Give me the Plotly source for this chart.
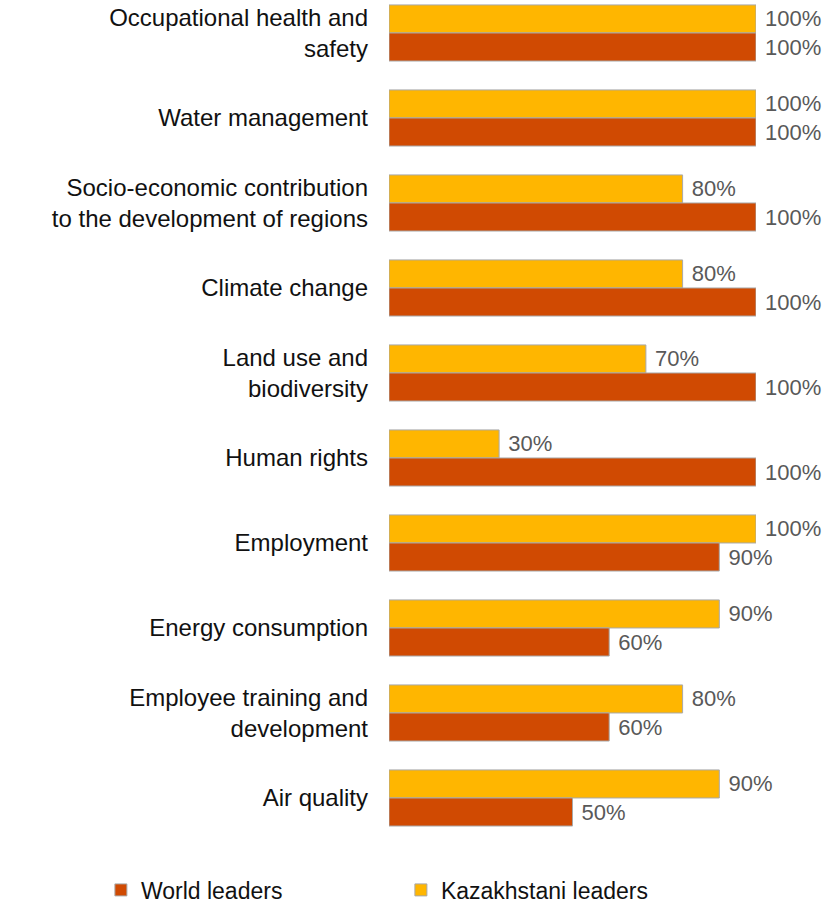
import plotly.graph_objects as go

categories = [
    "Occupational health and<br>safety",
    "Water management",
    "Socio-economic contribution<br>to the development of regions",
    "Climate change",
    "Land use and<br>biodiversity",
    "Human rights",
    "Employment",
    "Energy consumption",
    "Employee training and<br>development",
    "Air quality",
]
world_leaders = [100, 100, 100, 100, 100, 100, 90, 60, 60, 50]
kazakh_leaders = [100, 100, 80, 80, 70, 30, 100, 90, 80, 90]

FONT = "Liberation Sans, Arial, sans-serif"
ORANGE = "#D04A02"
YELLOW = "#FFB600"

fig = go.Figure()
fig.add_trace(go.Bar(
    y=categories, x=kazakh_leaders, orientation="h", name="Kazakhstani leaders",
    marker=dict(color=YELLOW, line=dict(color="#a8a8a8", width=1)),
    texttemplate="\u00a0%{x}%", textposition="outside", cliponaxis=False,
    constraintext="none",
    textfont=dict(family=FONT, size=22, color="#595959"),
    legendrank=2,
))
fig.add_trace(go.Bar(
    y=categories, x=world_leaders, orientation="h", name="World leaders",
    marker=dict(color=ORANGE, line=dict(color="#a8a8a8", width=1)),
    texttemplate="\u00a0%{x}%", textposition="outside", cliponaxis=False,
    constraintext="none",
    textfont=dict(family=FONT, size=22, color="#595959"),
    legendrank=1,
))

fig.update_layout(
    width=831, height=904,
    margin=dict(l=389, r=75, t=0, b=54, autoexpand=False),
    barmode="group", bargap=0.34, bargroupgap=0,
    plot_bgcolor="white", paper_bgcolor="white",
    font=dict(family=FONT, size=24, color="#111111"),
    showlegend=True,
    legend=dict(orientation="h", x=-0.785, xanchor="left", y=-0.047, yanchor="middle",
                font=dict(family=FONT, size=23, color="#111111"),
                entrywidth=255, entrywidthmode="pixels"),
    xaxis=dict(range=[0, 100], visible=False, showgrid=False, zeroline=False),
    yaxis=dict(autorange=False, range=[9.612, -0.388], showgrid=False, zeroline=False,
               showline=False, ticks="", ticklabelstandoff=20,
               tickfont=dict(family=FONT, size=24, color="#111111")),
)

fig.write_html("out.html")
